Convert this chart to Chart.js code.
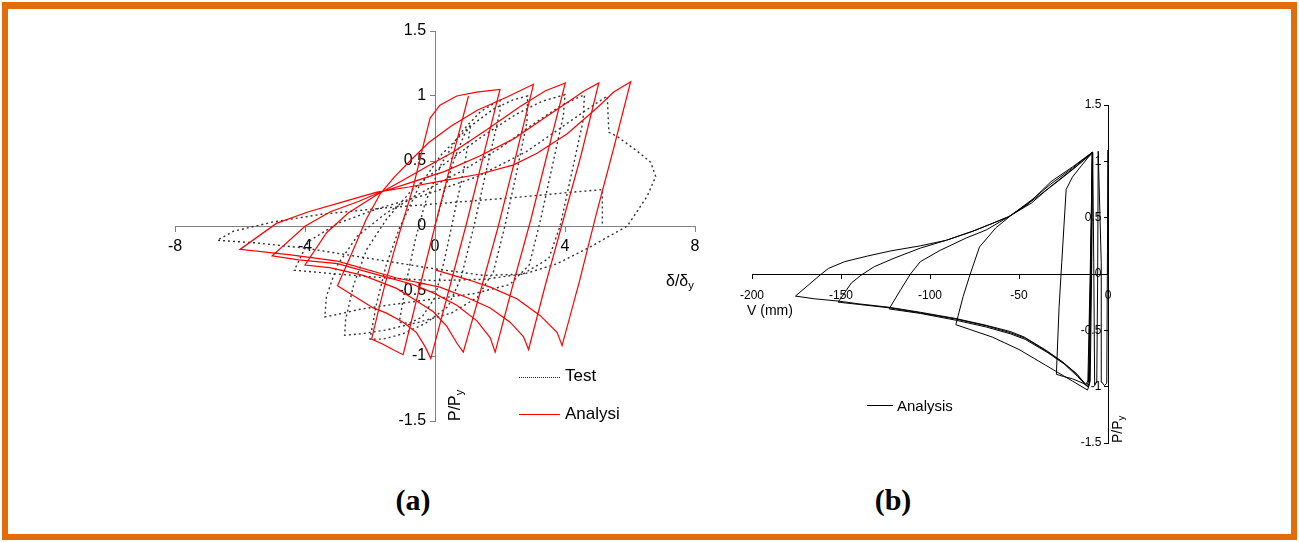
<!DOCTYPE html>
<html>
<head>
<meta charset="utf-8">
<script src="https://cdn.jsdelivr.net/npm/chart.js@4/dist/chart.umd.min.js"></script>
<style>
  body { margin: 0; background: #fff; width: 1299px; height: 542px; position: relative; overflow: hidden; font-family: 'Liberation Sans', Arial, sans-serif; }
  #frame { position: absolute; left: 2px; top: 2px; width: 1295px; height: 538px; box-sizing: border-box; border: 6px solid #E36C0A; border-top-width: 7px; }
  canvas { position: absolute; }
  .lbl { position: absolute; white-space: nowrap; line-height: 1; color: #000; }
  .rot { transform-origin: 0 0; transform: rotate(-90deg); }
  .cap { position: absolute; font-family: 'Liberation Serif', 'Times New Roman', serif; font-weight: bold; font-size: 30px; line-height: 1; width: 100px; text-align: center; }
  sub { font-size: 70%; vertical-align: -0.25em; line-height: 0; }
</style>
</head>
<body>
<div id="frame"></div>
<canvas id="chartA" width="760" height="470" style="left:0;top:0"></canvas>
<canvas id="chartB" width="420" height="420" style="left:730px;top:60px"></canvas>

<div class="lbl" style="left:666px;top:273px;font-size:16px">δ/δ<sub>y</sub></div>
<div class="lbl rot" style="left:447px;top:421px;font-size:16px">P/P<sub>y</sub></div>
<div style="position:absolute;left:519px;top:377px;width:41px;border-top:1.5px dotted #222"></div>
<div class="lbl" style="left:565px;top:367px;font-size:17px">Test</div>
<div style="position:absolute;left:519px;top:414px;width:41px;border-top:1px solid #ff0000"></div>
<div class="lbl" style="left:565px;top:405px;font-size:17px">Analysi</div>

<div class="lbl" style="left:747px;top:303px;font-size:14px">V (mm)</div>
<div class="lbl rot" style="left:1110px;top:443px;font-size:14px">P/P<sub>y</sub></div>
<div style="position:absolute;left:867px;top:405px;width:26px;border-top:1px solid #000"></div>
<div class="lbl" style="left:897px;top:398px;font-size:15px">Analysis</div>

<div class="cap" style="left:363px;top:485px">(a)</div>
<div class="cap" style="left:843px;top:485px">(b)</div>

<script>
// tick values
const xTicksA = [-8, -4, 0, 4, 8];
const yTicks = [-1.5, -1, -0.5, 0, 0.5, 1, 1.5];
const xTicksB = [-200, -150, -100, -50, 0];

// (a) analysis, P/Py vs delta/delta_y
const analysisA = [
  [0, 0], [0.5, 0.49], [1.03, 1.0],
  [0.5, 0.49], [0.0, 0.0], [-0.5, -0.5], [-0.98, -0.99],
  [-1.3, -0.95], [-1.6, -0.91], [-1.95, -0.87],
  [-1.75, -0.66], [-1.55, -0.46], [-1.29, -0.22], [-1.03, 0.0], [-0.67, 0.3], [-0.36, 0.62], [-0.15, 0.83], [0.15, 0.93], [0.67, 1.0], [1.28, 1.03], [2.0, 1.05],
  [1.45, 0.5], [0.95, 0.0], [0.42, -0.5], [-0.13, -1.02],
  [-0.3, -0.93], [-0.57, -0.82], [-0.98, -0.74], [-1.49, -0.67], [-1.9, -0.63], [-2.42, -0.55], [-3.0, -0.46],
  [-2.56, -0.21], [-2.12, 0.05], [-1.68, 0.25], [-1.24, 0.38], [-0.77, 0.5], [-0.2, 0.64], [0.5, 0.77], [1.3, 0.89], [2.2, 0.99], [3.03, 1.09],
  [2.5, 0.55], [1.95, 0.0], [1.4, -0.5], [0.87, -0.97],
  [0.67, -0.9], [0.36, -0.77], [-0.05, -0.66], [-0.67, -0.56], [-1.18, -0.48], [-2.21, -0.38], [-3.24, -0.32], [-4.0, -0.3],
  [-3.33, -0.05], [-2.67, 0.1], [-1.79, 0.24], [-1.0, 0.35], [-0.3, 0.45], [0.56, 0.57], [1.59, 0.74], [2.62, 0.92], [3.4, 1.04], [4.01, 1.1],
  [3.45, 0.55], [2.95, 0.05], [2.4, -0.45], [1.85, -0.97],
  [1.7, -0.86], [1.29, -0.73], [0.67, -0.61], [0.0, -0.52], [-0.67, -0.45], [-1.7, -0.38], [-3.0, -0.29], [-4.2, -0.26], [-5.01, -0.23],
  [-3.99, 0.0], [-3.22, 0.11], [-2.34, 0.19], [-1.79, 0.25], [-0.8, 0.33], [0.3, 0.42], [1.39, 0.54], [2.42, 0.67], [3.24, 0.81], [4.07, 0.95], [4.6, 1.04], [5.04, 1.1],
  [4.5, 0.55], [3.95, 0.05], [3.4, -0.45], [2.88, -0.95],
  [2.72, -0.85], [2.31, -0.74], [1.7, -0.63], [0.98, -0.55], [0.15, -0.47], [-1.18, -0.4], [-3.0, -0.27], [-4.5, -0.22], [-6.0, -0.18],
  [-4.88, 0.02], [-3.89, 0.11], [-2.78, 0.19], [-1.79, 0.26], [-0.8, 0.3], [0.05, 0.34], [1.39, 0.4], [2.42, 0.47], [3.14, 0.56], [4.07, 0.71], [4.99, 0.91], [5.5, 1.03], [6.02, 1.11],
  [5.5, 0.6], [4.95, 0.08], [4.45, -0.42], [3.91, -0.92],
  [3.76, -0.82], [3.24, -0.69], [2.52, -0.56], [1.7, -0.47], [0.98, -0.41], [0.03, -0.34]
];

// (a) test, dotted curve
const testA = [
  [0, 0], [0.3, 0.28], [0.6, 0.52], [0.9, 0.7], [1.1, 0.78],
  [0.9, 0.45], [0.6, 0.1], [0.3, -0.25], [0.0, -0.55], [-0.4, -0.7], [-0.8, -0.75], [-1.1, -0.74],
  [-0.9, -0.45], [-0.6, -0.1], [-0.3, 0.18], [0.2, 0.48], [0.8, 0.72], [1.4, 0.88], [2.0, 0.97],
  [2.0, 0.88], [1.6, 0.45], [1.2, 0.0], [0.8, -0.4], [0.4, -0.62], [-0.3, -0.75], [-1.0, -0.83], [-1.6, -0.87], [-2.0, -0.87],
  [-1.8, -0.6], [-1.5, -0.3], [-1.1, -0.02], [-0.5, 0.3], [0.2, 0.55], [1.0, 0.75], [1.8, 0.9], [2.4, 0.97], [2.85, 1.0],
  [2.83, 0.8], [2.5, 0.4], [2.15, 0.0], [1.8, -0.35], [1.3, -0.55], [0.5, -0.67], [-0.5, -0.74], [-1.5, -0.8], [-2.3, -0.83], [-2.78, -0.84],
  [-2.75, -0.72], [-2.5, -0.45], [-2.1, -0.18], [-1.5, 0.05], [-0.7, 0.28], [0.3, 0.48], [1.4, 0.68], [2.5, 0.86], [3.3, 0.96], [4.0, 1.01],
  [3.95, 0.85], [3.6, 0.45], [3.25, 0.05], [2.9, -0.3], [2.3, -0.45], [1.2, -0.52], [0.0, -0.56], [-1.2, -0.6], [-2.3, -0.64], [-3.0, -0.68], [-3.39, -0.7],
  [-3.34, -0.54], [-3.0, -0.3], [-2.4, -0.08], [-1.5, 0.1], [-0.4, 0.26], [0.8, 0.42], [2.0, 0.6], [3.0, 0.78], [3.9, 0.93], [4.6, 1.01],
  [4.55, 0.8], [4.2, 0.4], [3.85, 0.0], [3.5, -0.25], [2.7, -0.37], [1.5, -0.41], [0.0, -0.42], [-1.5, -0.4], [-3.0, -0.37], [-4.33, -0.34],
  [-3.9, -0.12], [-3.0, 0.02], [-1.8, 0.13], [-0.3, 0.24], [1.3, 0.38], [2.8, 0.57], [3.9, 0.76], [4.7, 0.9], [5.3, 1.0],
  [5.35, 0.72], [5.6, 0.69], [6.2, 0.58], [6.64, 0.49], [6.79, 0.38], [6.53, 0.23], [5.92, 0.0], [4.78, -0.16], [3.76, -0.29], [2.73, -0.37], [1.5, -0.38], [0.0, -0.33], [-2.0, -0.25], [-4.0, -0.17], [-5.5, -0.13], [-6.7, -0.11],
  [-6.2, -0.04], [-5.0, 0.03], [-3.5, 0.09], [-1.5, 0.14], [0.5, 0.18], [2.5, 0.22], [4.2, 0.26], [5.15, 0.28], [5.15, 0.0]
];

// (b) analysis, P/Py vs V (mm)
const analysisB = [
  [0, 0], [0, 1.1], [-0.3, 0.2], [-0.7, -0.97], [-2, -0.99], [-3.5, -0.96],
  [-3.8, 0.1], [-5.5, 1.09], [-5.8, 0], [-6.3, -0.95], [-7.5, -0.99],
  [-8, 0.1], [-8.6, 1.08], [-9.2, 0], [-10, -0.95], [-11, -1.0], [-14, -0.97], [-20, -0.93], [-25, -0.91], [-29, -0.89],
  [-27.5, -0.3], [-26, 0.1], [-23.5, 0.75], [-20, 0.86], [-15, 0.96], [-8.8, 1.08],
  [-9.5, 0], [-10.5, -0.98], [-11.5, -1.03],
  [-20, -0.95], [-35, -0.81], [-50, -0.67], [-65, -0.56], [-78, -0.49], [-85.5, -0.45],
  [-81.4, -0.2], [-77.4, 0.0], [-72.2, 0.24], [-63, 0.41], [-53.7, 0.53], [-42.7, 0.66], [-32, 0.8], [-20, 0.94], [-8.8, 1.08],
  [-9.5, 0.1], [-10.5, -0.97], [-11.6, -1.0],
  [-17.1, -0.91], [-24.5, -0.8], [-33.7, -0.7], [-46.5, -0.58], [-55, -0.53], [-68.5, -0.47], [-85.5, -0.41], [-105.4, -0.35], [-123, -0.31],
  [-116.5, -0.14], [-111, 0.0], [-105.4, 0.11], [-94.3, 0.21], [-79.6, 0.32], [-68.5, 0.39], [-55.6, 0.51], [-45, 0.62], [-32, 0.82], [-20, 0.95], [-8.8, 1.08],
  [-9.8, 0.0], [-11, -0.96], [-12, -0.99],
  [-17.5, -0.89], [-25, -0.79], [-34, -0.69], [-46.5, -0.57], [-55, -0.52], [-68.5, -0.46], [-85.5, -0.4], [-105.4, -0.345], [-123, -0.3], [-140, -0.27], [-151.6, -0.25],
  [-144.2, -0.08], [-138.7, -0.01], [-131.3, 0.065], [-120.2, 0.14], [-105.4, 0.23], [-90.7, 0.3], [-75.9, 0.38], [-64.8, 0.45], [-55.6, 0.51], [-43, 0.63], [-32, 0.78], [-20, 0.93], [-8.8, 1.07],
  [-10, 0], [-11.3, -0.95], [-12.5, -0.98],
  [-18, -0.88], [-25.5, -0.78], [-34.5, -0.68], [-47, -0.56], [-55, -0.51], [-68.5, -0.455], [-85.5, -0.395], [-105.4, -0.34], [-123, -0.295], [-140, -0.265], [-151.6, -0.24], [-165, -0.22], [-175.6, -0.196],
  [-161.8, -0.01], [-157, 0.05], [-147.9, 0.11], [-135, 0.16], [-122, 0.205], [-105.4, 0.25], [-90.7, 0.3], [-75.9, 0.38], [-64.8, 0.45], [-55.6, 0.51], [-42.7, 0.65], [-30, 0.8], [-18, 0.95], [-8.8, 1.08]
];

const toPts = arr => arr.map(p => ({ x: p[0], y: p[1] }));
const sans = 'Liberation Sans, Arial, sans-serif';

function makeScales(xTicks, xMin, xMax, axisColor, fontSize, xPad, tl) {
  return {
    x: {
      type: 'linear', min: xMin, max: xMax,
      position: { y: 0 },
      afterBuildTicks: s => { s.ticks = xTicks.map(v => ({ value: v })); },
      afterFit: s => { s.height = 0; },
      grid: { drawOnChartArea: false, drawTicks: true, tickLength: tl, color: axisColor },
      border: { color: axisColor, width: 1 },
      ticks: { color: '#000', font: { family: sans, size: fontSize }, padding: xPad, maxRotation: 0, autoSkip: false,
               callback: v => String(v) }
    },
    y: {
      type: 'linear', min: -1.5, max: 1.5,
      position: { x: 0 },
      afterBuildTicks: s => { s.ticks = yTicks.map(v => ({ value: v })); },
      afterFit: s => { s.width = 0; },
      grid: { drawOnChartArea: false, drawTicks: true, tickLength: tl, color: axisColor },
      border: { color: axisColor, width: 1 },
      // centred axis: labels sit on the line, so pad them with trailing spaces
      ticks: { color: '#000', font: { family: sans, size: fontSize }, autoSkip: false,
               callback: v => String(v) + '  ' }
    }
  };
}

const common = {
  responsive: false,
  animation: false,
  events: [],
  plugins: { legend: { display: false }, tooltip: { enabled: false } }
};

new Chart(document.getElementById('chartA').getContext('2d'), {
  type: 'scatter',
  data: {
    datasets: [
      { label: 'Analysi', data: toPts(analysisA), showLine: true, borderColor: '#ff0000', borderWidth: 1.2, pointRadius: 0, clip: false },
      { label: 'Test', data: toPts(testA), showLine: true, borderColor: '#333', borderWidth: 1.4, borderDash: [2, 3], pointRadius: 0, clip: false }
    ]
  },
  options: Object.assign({}, common, {
    layout: { padding: { left: 175, right: 65, top: 31, bottom: 49 } },
    scales: makeScales(xTicksA, -8, 8, '#808080', 16, 6, 5)
  })
});

new Chart(document.getElementById('chartB').getContext('2d'), {
  type: 'scatter',
  data: {
    datasets: [
      { label: 'Analysis', data: toPts(analysisB), showLine: true, borderColor: '#000', borderWidth: 1, pointRadius: 0, clip: false }
    ]
  },
  options: Object.assign({}, common, {
    layout: { padding: { left: 16, right: 42, top: 45, bottom: 37 } },
    scales: makeScales(xTicksB, -200, 0, '#000', 12, 10, 4)
  })
});
</script>
</body>
</html>
